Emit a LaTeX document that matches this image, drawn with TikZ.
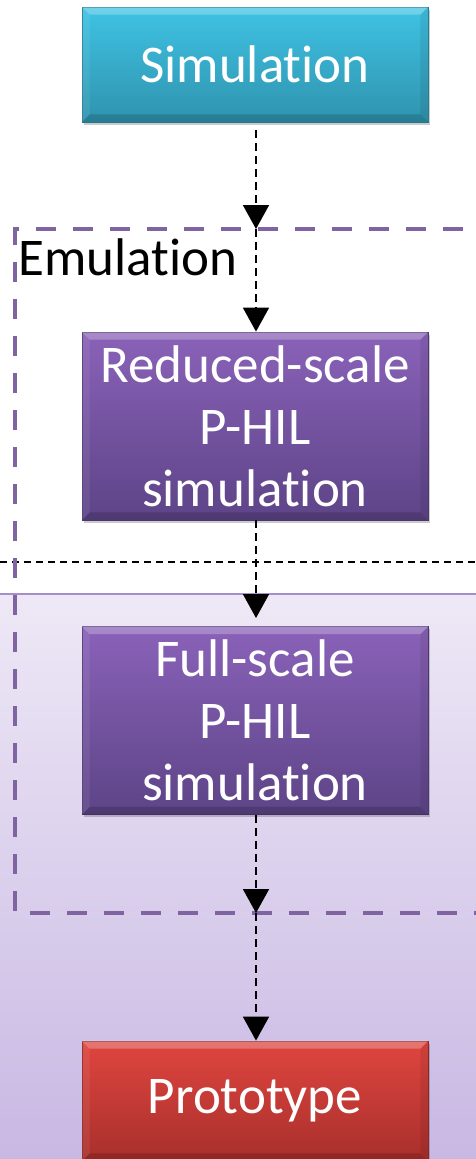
\documentclass[tikz,border=0pt]{standalone}
\usepackage{fontspec}
\setmainfont[Ligatures=NoCommon]{Carlito}
\usetikzlibrary{arrows.meta,shadows,calc}

\definecolor{emuline}{HTML}{8064A2}
\definecolor{bgtop}{HTML}{EEE8F6}
\definecolor{bgbot}{HTML}{C8B8E3}
\definecolor{bgedge}{HTML}{A58FC8}
\definecolor{cyanT}{HTML}{3FC3E4}
\definecolor{cyanB}{HTML}{2F93AE}
\definecolor{cyanD}{HTML}{2A7E95}
\definecolor{purpT}{HTML}{8A62B9}
\definecolor{purpB}{HTML}{5D4487}
\definecolor{purpD}{HTML}{4E3A72}
\definecolor{redT}{HTML}{E0453F}
\definecolor{redB}{HTML}{A82F2C}
\definecolor{redD}{HTML}{8E2724}

\tikzset{
  stagebox/.style={rectangle, minimum width=346pt, inner sep=0pt,
    text=white, align=center, font=\fontsize{53}{62}\selectfont,
    drop shadow={shadow xshift=1.5pt, shadow yshift=-2.5pt, opacity=0.25, fill=black!80}},
  simbox/.style={stagebox, minimum height=115pt, top color=cyanT, bottom color=cyanB, draw=cyanD, line width=0.8pt},
  hilbox/.style={stagebox, minimum height=188pt, top color=purpT, bottom color=purpB, draw=purpD, line width=0.8pt},
  protobox/.style={stagebox, minimum height=120pt, top color=redT, bottom color=redB, draw=redD, line width=0.8pt},
  flow/.style={draw=black, line width=1.8pt, dash pattern=on 8pt off 5pt,
    -{Triangle[width=26pt,length=24pt]}},
  emuframe/.style={draw=emuline, line width=4pt, dash pattern=on 20pt off 17pt},
  divider/.style={draw=black, line width=1.3pt, dash pattern=on 7pt off 5pt},
}

% lighter top rim and darker bottom / right rims of a box
\newcommand{\bevelbox}[1]{%
  \fill[white, opacity=0.25] (#1.north west) -- (#1.north east)
    -- ($(#1.north east)+(-8,8)$) -- ($(#1.north west)+(8,8)$) -- cycle;
  \fill[black, opacity=0.15] (#1.south west) -- (#1.south east)
    -- ($(#1.south east)+(-8,-8)$) -- ($(#1.south west)+(8,-8)$) -- cycle;
  \fill[black, opacity=0.07] (#1.north east) -- (#1.south east)
    -- ($(#1.south east)+(-8,-8)$) -- ($(#1.north east)+(-8,8)$) -- cycle;
  \fill[white, opacity=0.07] (#1.north west) -- (#1.south west)
    -- ($(#1.south west)+(8,-8)$) -- ($(#1.north west)+(8,8)$) -- cycle;
}

\begin{document}
\begin{tikzpicture}[x=1pt, y=-1pt]
  \useasboundingbox (0,0) rectangle (476,1159);
  \fill[white] (0,0) rectangle (476,1159);

  % shaded band of the full-scale part
  \shade[top color=bgtop, bottom color=bgbot] (0,594) rectangle (476,1159);
  \draw[bgedge, line width=1.5pt] (0,594) -- (476,594);

  % boundary between reduced-scale and full-scale
  \path[divider] (0,562) -- (476,562);

  % emulation frame (runs past the right edge)
  \path[emuframe] (500,229) -- (15,229) -- (15,913) -- (500,913);
  \node[anchor=north west, inner sep=0pt, font=\fontsize{53}{62}\selectfont] (emu) at (18,238) {Emulation};

  % stages
  \node[simbox] (sim) at (255,64.5) {Simulation};
  \node[hilbox] (red) at (255,426) {Reduced-scale\\P-HIL\\simulation};
  \node[hilbox] (full) at (255,720.5) {Full-scale\\P-HIL\\simulation};
  \node[protobox] (proto) at (255,1101) {Prototype};
  \bevelbox{sim}
  \bevelbox{red}
  \bevelbox{full}
  \bevelbox{proto}

  % crossing points on the frame
  \coordinate (ftop) at (256,229);
  \coordinate (fbot) at (256,913);
  \coordinate (fullin) at (256,618);

  % connectors
  \draw[flow] ($(sim.south)+(1,8)$) -- (ftop);
  \draw[flow] (ftop) -- (red.north -| ftop);
  \draw[flow] (red.south -| ftop) -- (fullin);
  \draw[flow] (full.south -| ftop) -- (fbot);
  \draw[flow] (fbot) -- (proto.north -| ftop);
\end{tikzpicture}
\end{document}
